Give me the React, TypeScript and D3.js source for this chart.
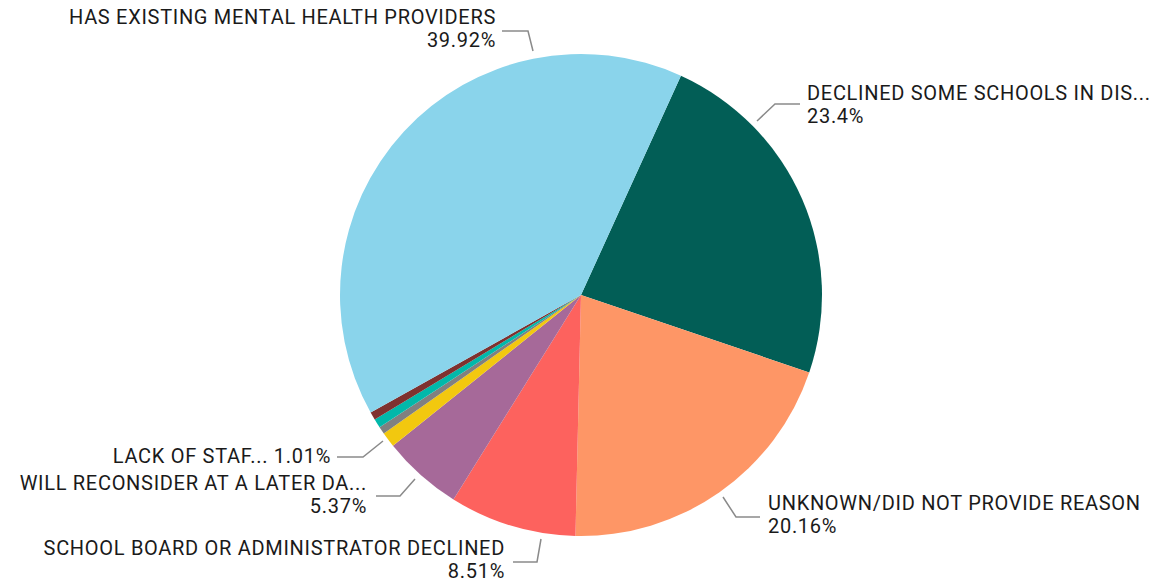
import React from "react";
import * as d3 from "d3";

const categories = [
  "DECLINED SOME SCHOOLS IN DISTRICT",
  "UNKNOWN/DID NOT PROVIDE REASON",
  "SCHOOL BOARD OR ADMINISTRATOR DECLINED",
  "WILL RECONSIDER AT A LATER DATE",
  "LACK OF STAFF",
  "OTHER (GRAY)",
  "OTHER (TEAL)",
  "OTHER (DARK RED)",
  "HAS EXISTING MENTAL HEALTH PROVIDERS",
];
const values = [23.4, 20.16, 8.51, 5.37, 1.01, 0.5, 0.6, 0.53, 39.92];
const colors = ["#025E56", "#FE9666", "#FD625E", "#A66999", "#F2C80F", "#808080", "#01B8AA", "#7F312F", "#8AD4EB"];
const valueLabels = ["23.4%", "20.16%", "8.51%", "5.37%", "1.01%", "", "", "", "39.92%"];

const W = 1168, H = 585;
const cx = 581, cy = 295, R = 241;
const startDeg = 24.5;

type Lab = { i: number; lines: string[]; x: number; y: number; anchor: string; leader: [number, number][] };
const labels: Lab[] = [
  { i: 8, lines: ["HAS EXISTING MENTAL HEALTH PROVIDERS", "39.92%"], x: 496, y: 24, anchor: "end", leader: [[502, 31], [528, 31], [533, 51]] },
  { i: 0, lines: ["DECLINED SOME SCHOOLS IN DIS...", "23.4%"], x: 807, y: 100, anchor: "start", leader: [[757, 121], [775, 104], [800, 104]] },
  { i: 1, lines: ["UNKNOWN/DID NOT PROVIDE REASON", "20.16%"], x: 768, y: 510, anchor: "start", leader: [[723, 497], [736, 517], [760, 517]] },
  { i: 2, lines: ["SCHOOL BOARD OR ADMINISTRATOR DECLINED", "8.51%"], x: 505, y: 555, anchor: "end", leader: [[541, 539], [537, 562], [513, 562]] },
  { i: 3, lines: ["WILL RECONSIDER AT A LATER DA...", "5.37%"], x: 367, y: 490, anchor: "end", leader: [[415, 479], [400, 496], [376, 496]] },
  { i: 4, lines: ["LACK OF STAF... 1.01%"], x: 331, y: 463, anchor: "end", leader: [[383, 441], [363, 457], [337, 457]] },
];

export default function App() {
  const pie = d3
    .pie<number>()
    .sort(null)
    .value((d) => d)
    .startAngle((startDeg * Math.PI) / 180)
    .endAngle((startDeg * Math.PI) / 180 + 2 * Math.PI);
  const arcs = pie(values);
  const arc = d3.arc<d3.PieArcDatum<number>>().innerRadius(0).outerRadius(R);
  const line = d3.line();
  return (
    <svg width={W} height={H} style={{ position: "absolute", left: 0, top: 0, background: "#fff" }}>
      <g transform={`translate(${cx},${cy})`}>
        {arcs.map((a, k) => (
          <path key={k} d={arc(a) || ""} fill={colors[k]} />
        ))}
      </g>
      {labels.map((l, k) => (
        <g key={k}>
          <path d={line(l.leader) || ""} fill="none" stroke="#8a8a8a" strokeWidth={1.5} />
          {l.lines.map((t, j) => (
            <text
              key={j}
              x={l.x}
              y={l.y + j * 23}
              textAnchor={l.anchor as any}
              fontFamily="Roboto, 'DejaVu Sans Condensed', sans-serif"
              fontSize={20}
              letterSpacing={0.7}
              fill="#1a1a1a"
            >
              {t}
            </text>
          ))}
        </g>
      ))}
    </svg>
  );
}
